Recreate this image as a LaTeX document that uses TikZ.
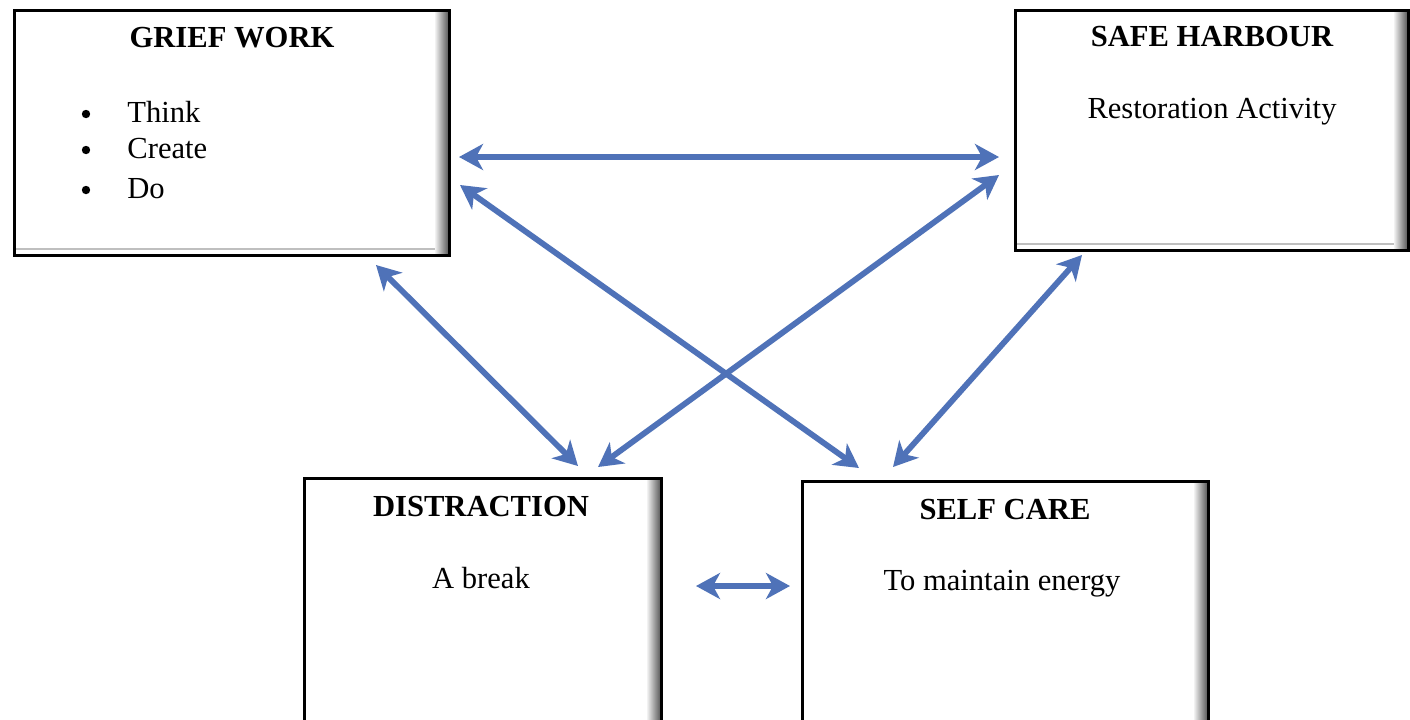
\documentclass[tikz,border=0pt]{standalone}
\usepackage{fontspec}
\setmainfont{Liberation Serif}
\usetikzlibrary{arrows.meta}
\definecolor{arrowblue}{RGB}{79,114,184}
\tikzset{
  box/.style={draw=black, line width=1.5pt, fill=white, inner sep=0pt,
    path picture={
      \foreach \i in {0,...,13}{
        \pgfmathsetmacro{\shadeval}{5+4.5*\i}
        \fill[black!\shadeval] ([xshift={-7pt+0.5pt*\i}]path picture bounding box.north east) rectangle ([xshift={-6.5pt+0.5pt*\i}]path picture bounding box.south east);
      }
      \draw[black!25, line width=0.8pt] ([yshift=3pt]path picture bounding box.south west) -- ([yshift=3pt,xshift=-7pt]path picture bounding box.south east);}},
  title/.style={font=\fontsize{15.3}{18.5}\selectfont\bfseries, inner sep=0pt},
  body/.style={font=\fontsize{15.3}{18.5}\selectfont, inner sep=0pt},
  dot/.style={circle, fill=black, inner sep=0pt, minimum size=4.2pt},
  link/.style={draw=arrowblue, line width=2.9pt, {Stealth[length=12pt,width=13pt,inset=3.5pt]}-{Stealth[length=12pt,width=13pt,inset=3.5pt]}}
}
\begin{document}
\begin{tikzpicture}[x=0.5pt,y=-0.5pt]
\useasboundingbox (0,0) rectangle (1410,719);
\clip (0,0) rectangle (1410,719);
\fill[white] (0,0) rectangle (1410,719);
% boxes
\node[box, minimum width=217.5pt, minimum height=122.5pt] (grief) at (231.5,132.5) {};
\node[box, minimum width=196.5pt, minimum height=120pt] (safe) at (1211.5,130) {};
\node[box, minimum width=178.5pt, minimum height=131pt] (dist) at (482.5,609) {};
\node[box, minimum width=203pt, minimum height=129.5pt] (self) at (1005,610.5) {};
% texts
\node[title] (griefT) at (232,38) {GRIEF WORK};
\node[dot] (b1) at (86,114) {};
\node[dot] (b2) at (86,150) {};
\node[dot] (b3) at (86,190) {};
\node[body, anchor=base west] (t1) at (127,122) {Think};
\node[body, anchor=base west] (t2) at (127,158) {Create};
\node[body, anchor=base west] (t3) at (127,198) {Do};
\node[title] (safeT) at (1212,37) {SAFE HARBOUR};
\node[body, anchor=base] (safeB) at (1212,118) {Restoration Activity};
\node[title] (distT) at (481,507) {DISTRACTION};
\node[body, anchor=base] (distB) at (481,588) {A break};
\node[title] (selfT) at (1005,510) {SELF CARE};
\node[body, anchor=base] (selfB) at (1002,590) {To maintain energy};
% arrow end points
\coordinate (gs1) at (459,157);
\coordinate (sg1) at (999,157);
\coordinate (gc1) at (460,185);
\coordinate (cg1) at (859,468);
\coordinate (ds1) at (598,467);
\coordinate (sd1) at (999,175);
\coordinate (gd1) at (376,265);
\coordinate (dg1) at (578,466);
\coordinate (cs1) at (893,467);
\coordinate (sc1) at (1082,255);
\coordinate (dc1) at (696,586);
\coordinate (cd1) at (790,586);
% arrows
\draw[link] (gs1) -- (sg1);
\draw[link] (gc1) -- (cg1);
\draw[link] (ds1) -- (sd1);
\draw[link] (gd1) -- (dg1);
\draw[link] (cs1) -- (sc1);
\draw[link] (dc1) -- (cd1);
\end{tikzpicture}
\end{document}
